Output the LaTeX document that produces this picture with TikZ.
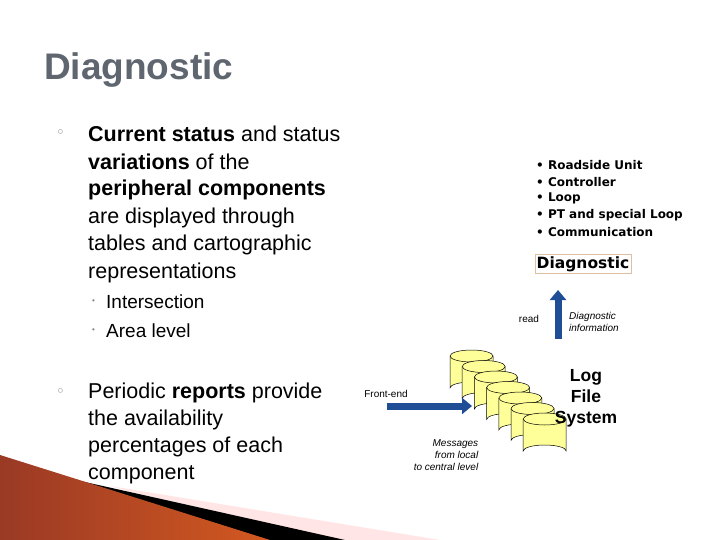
\documentclass[tikz,border=0pt]{standalone}
\usepackage{fontspec}
\usetikzlibrary{arrows.meta}
\setmainfont{Liberation Sans}
\newfontfamily\verd{DejaVu Sans}
\definecolor{arrblue}{HTML}{1F4E96}
\definecolor{cylfill}{HTML}{FFFF99}
\definecolor{redd}{HTML}{C0482E}
\definecolor{titlegray}{HTML}{5F6670}
\begin{document}
\begin{tikzpicture}[x=1pt,y=-1pt,
  body/.style={anchor=west,font=\fontsize{21.5}{24}\selectfont,inner sep=0pt},
  sub/.style={anchor=west,font=\fontsize{19}{22}\selectfont,inner sep=0pt},
  lst/.style={anchor=west,font=\verd\bfseries\fontsize{12}{14}\selectfont,inner sep=0pt},
  small/.style={font=\fontsize{10}{12}\selectfont\itshape,align=right,inner sep=0pt},
  bullet/.style={anchor=west,text=gray,font=\verd\fontsize{15}{16}\selectfont,inner sep=0pt},
  bigarrow/.style={-{Triangle[length=10pt,width=16pt]},line width=7pt,draw=arrblue}]
\useasboundingbox (0,0) rectangle (720,540);
\fill[white] (0,0) rectangle (720,540);
% bottom decoration
\fill[pink!40] (110,486) -- (440,540) -- (300,540) -- cycle;
\fill[black] (40,472) -- (345,540) -- (255,540) -- cycle;
\shade[left color=redd!80!black,right color=redd!70!orange] (0,455) -- (270,540) -- (0,540) -- cycle;
% title
\node[anchor=west,text=titlegray,font=\bfseries\fontsize{37}{42}\selectfont,inner sep=0pt] (title) at (44,70) {Diagnostic};
% left text
\node[bullet] (b1) at (56,134) {◦};
\node[body] (l1) at (88,134) {\textbf{Current status} and status};
\node[body] (l2) at (88,162) {\textbf{variations} of the};
\node[body] (l3) at (88,190) {\textbf{peripheral components}};
\node[body] (l4) at (88,218) {are displayed through};
\node[body] (l5) at (88,245) {tables and cartographic};
\node[body] (l6) at (88,273) {representations};
\node[anchor=west,text=gray,font=\fontsize{8}{10}\selectfont,inner sep=0pt] (s1b) at (92,302) {•};
\node[sub] (s1) at (106,302) {Intersection};
\node[anchor=west,text=gray,font=\fontsize{8}{10}\selectfont,inner sep=0pt] (s2b) at (92,331) {•};
\node[sub] (s2) at (106,331) {Area level};
\node[bullet] (b2) at (56,393) {◦};
\node[body] (p1) at (88,393) {Periodic \textbf{reports} provide};
\node[body] (p2) at (88,420) {the availability};
\node[body] (p3) at (88,447) {percentages of each};
\node[body] (p4) at (88,475) {component};
% right list
\node[lst] (r1) at (536,165) {• Roadside Unit};
\node[lst] (r2) at (536,182) {• Controller};
\node[lst] (r3) at (536,198) {• Loop};
\node[lst] (r4) at (536,215) {• PT and special Loop};
\node[lst] (r5) at (536,232) {• Communication};
\node[draw=brown!50,fill=white,font=\verd\bfseries\fontsize{15.5}{18}\selectfont,inner sep=2pt] (diag) at (583,264) {Diagnostic};
% cylinders
\foreach \i in {0,...,6}{
  \pgfmathsetmacro\xx{450+12.2*\i}
  \pgfmathsetmacro\yy{356+10.5*\i}
  \filldraw[fill=cylfill,draw=black,line width=0.5pt]
    (\xx,\yy) -- (\xx,\yy+32) arc[start angle=180,end angle=360,x radius=21.5,y radius=6]
    -- (\xx+43,\yy) arc[start angle=0,end angle=-180,x radius=21.5,y radius=6] -- cycle;
  \draw[line width=0.5pt] (\xx,\yy) arc[start angle=180,end angle=0,x radius=21.5,y radius=6];
}
\coordinate (fa) at (387,406);
\coordinate (fb) at (472,406);
\draw[bigarrow] (fa) -- (fb);
\coordinate (ua) at (558,339);
\coordinate (ub) at (558,290);
\draw[bigarrow] (ua) -- (ub);
\node[font=\fontsize{10}{12}\selectfont,inner sep=0pt] (fe) at (386,394) {Front-end};
\node[small] (msg) at (446,455) {Messages\\from local\\to central level};
\node[font=\fontsize{10}{12}\selectfont,inner sep=0pt] (rd) at (529,319) {read};
\node[small,align=left,anchor=west] (di) at (569,322) {Diagnostic\\information};
\node[font=\bfseries\fontsize{17.5}{21}\selectfont,align=center,inner sep=0pt] (lfs) at (586,398) {Log\\File\\System};
\end{tikzpicture}
\end{document}
